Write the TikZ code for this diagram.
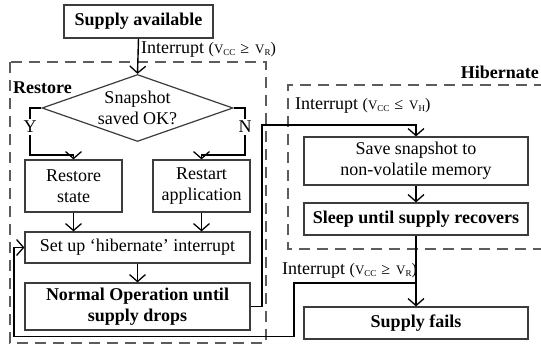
\documentclass[tikz,border=0pt]{standalone}
\usepackage{fontspec}
\setmainfont{Liberation Serif}
\usetikzlibrary{shapes.geometric,arrows.meta}
\definecolor{boxc}{HTML}{3C3C3C}
\definecolor{dashc}{HTML}{5C5C5C}
\newcommand{\myint}[2]{Interrupt {\fontsize{16}{16}\selectfont(}{\fontsize{13}{13}\selectfont V\raisebox{-2pt}{\fontsize{9}{9}\selectfont CC}\hspace{5pt}{\fontsize{16}{16}\selectfont #1}\hspace{6pt}V\raisebox{-2pt}{\fontsize{9}{9}\selectfont #2}}{\fontsize{16}{16}\selectfont)}}
\begin{document}
\begin{tikzpicture}[x=1pt,y=-1pt,
  box/.style={draw=boxc, line width=1.2pt, inner sep=0pt, align=center, font=\fontsize{18}{21}\selectfont},
  bbox/.style={box, font=\fontsize{18}{21}\selectfont\bfseries},
  conn/.style={draw=black, line width=1.4pt},
  arr/.style={conn, -{Straight Barb[length=7pt,width=16pt,line width=1.3pt]}},
  grp/.style={draw=dashc, line width=1.6pt, dash pattern=on 11pt off 7pt},
  lbl/.style={inner sep=0pt, font=\fontsize{18}{21}\selectfont},
  blbl/.style={inner sep=0pt, font=\fontsize{18}{21}\selectfont\bfseries},
]
\useasboundingbox (0,0) rectangle (541,345);
\fill[white] (0,0) rectangle (541,345);
% groups
\draw[grp] (10,62) rectangle (266,343);
\draw[grp] (545,85) -- (288,85) -- (288,249) -- (545,249);
\node[blbl, anchor=west] (rl) at (13,88) {Restore};
\node[blbl, anchor=east] (hl) at (539,72) {Hibernate};
% nodes
\node[bbox, minimum width=149, minimum height=33] (sa) at (138.5,21.5) {Supply available};
\node[box, shape=diamond, aspect=2.85, minimum width=191, minimum height=67] (dia) at (137.5,108) {Snapshot\\saved OK?};
\node[box, minimum width=97, minimum height=52] (rs) at (73.5,186) {Restore\\state};
\node[box, minimum width=97, minimum height=52] (ra) at (201.5,186) {Restart\\application};
\node[box, minimum width=225, minimum height=31] (su) at (137.5,247.5) {Set up ‘hibernate’ interrupt};
\node[bbox, minimum width=225, minimum height=47] (no) at (137.5,306.5) {Normal Operation until\\supply drops};
\node[box, minimum width=224, minimum height=48] (sv) at (416,161) {Save snapshot to\\non-volatile memory};
\node[bbox, minimum width=224, minimum height=32] (sl) at (416,219) {Sleep until supply recovers};
\node[bbox, minimum width=224, minimum height=32] (sf) at (416,323) {Supply fails};
% labels
\node[lbl, anchor=west] (i1) at (141,50) {\myint{≥}{R}};
\node[lbl, anchor=west] (i2) at (295,106) {\myint{≤}{H}};
\node[lbl, anchor=west] (i3) at (282,271) {\myint{≥}{R}};
% coordinates
\coordinate (yc) at (30,155);
\coordinate (nc) at (245,155);
\coordinate (h1) at (262,125);
\coordinate (j) at (416,283);
\coordinate (r1) at (294,336.5);
\coordinate (r2) at (14,336.5);
% connectors
\draw[arr] (sa.south) -- (dia.north);
\draw[arr] (dia.west) -| (yc) -| (rs.north);
\draw[arr] (dia.east) -| (nc) -| (ra.north);
\node[lbl, fill=white, inner ysep=2pt] (yl) at (30,127) {Y};
\node[lbl, fill=white, inner ysep=2pt] (nl) at (245,127) {N};
\draw[arr] (rs.south) -- (rs.south |- su.north);
\draw[arr] (ra.south) -- (ra.south |- su.north);
\draw[arr] (su.south) -- (no.north);
\draw[arr] (no.east) -| (h1) -| (sv.north);
\draw[arr] (sv.south) -- (sl.north);
\draw[arr] (sl.south) -- (sf.north);
\draw[arr] (j) -| (r1) -- (r2) |- (su.west);
\end{tikzpicture}
\end{document}
